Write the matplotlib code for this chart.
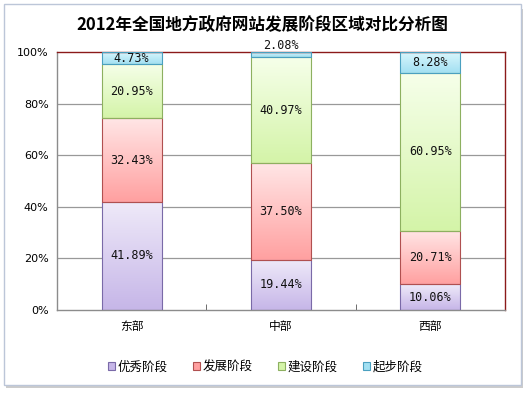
import numpy as np
import matplotlib
matplotlib.use("Agg")
import matplotlib.pyplot as plt
from matplotlib.colors import LinearSegmentedColormap
from matplotlib.patches import Rectangle

plt.rcParams['font.family'] = ['Noto Sans CJK SC', 'DejaVu Sans']

title = "2012年全国地方政府网站发展阶段区域对比分析图"
categories = ["东部", "中部", "西部"]
series_names = ["优秀阶段", "发展阶段", "建设阶段", "起步阶段"]
excellent = [41.89, 19.44, 10.06]
developing = [32.43, 37.50, 20.71]
building = [20.95, 40.97, 60.95]
starting = [4.73, 2.08, 8.28]
yticks = [0, 20, 40, 60, 80, 100]

series = [excellent, developing, building, starting]
# (top color, bottom color, edge color)
styles = [
    ("#efeaf9", "#c6b6e8", "#7a6aa8"),
    ("#ffe6e6", "#ffa0a0", "#b05050"),
    ("#f6ffea", "#d4f4a8", "#8db060"),
    ("#dcf7fd", "#a2e0f2", "#4aa0c0"),
]

fig = plt.figure(figsize=(5.28, 3.93), dpi=100)
W, H = 528, 393

# outer frame with shadow
shadow = Rectangle((6 / W, 1 - 388 / H), (521 - 4) / W, (385 - 6) / H,
                   transform=fig.transFigure, facecolor="#cccccc", edgecolor="none", zorder=0)
frame = Rectangle((4 / W, 1 - 385 / H), (521 - 4) / W, (385 - 4) / H,
                  transform=fig.transFigure, facecolor="white", edgecolor="#bcc6d8", lw=1, zorder=1)
fig.patches.extend([shadow, frame])

ax = fig.add_axes([57 / W, 1 - 310 / H, (505 - 57) / W, (310 - 52) / H])
ax.set_zorder(2)
ax.set_xlim(-0.5, 2.5)
ax.set_ylim(0, 100)
ax.set_facecolor("white")

for y in yticks[1:-1]:
    ax.axhline(y, color="#999999", lw=0.9, zorder=1)

x = np.arange(len(categories))
bottom = np.zeros(len(categories))
width = 0.4
grad = np.linspace(1, 0, 256).reshape(-1, 1)
for vals, (ctop, cbot, cedge) in zip(series, styles):
    cmap = LinearSegmentedColormap.from_list("g", [cbot, ctop])
    bars = ax.bar(x, vals, width, bottom=bottom, facecolor="none", edgecolor=cedge, lw=0.8, zorder=3)
    for b in bars:
        bx, by = b.get_x(), b.get_y()
        bw, bh = b.get_width(), b.get_height()
        im = ax.imshow(grad, extent=[bx, bx + bw, by, by + bh], aspect="auto",
                       cmap=cmap, vmin=0, vmax=1, zorder=2, origin="upper")
        im.set_clip_path(b)
    bottom = bottom + np.array(vals)

# labels
bottom = np.zeros(len(categories))
for si, vals in enumerate(series):
    for i, v in enumerate(vals):
        yc = bottom[i] + v / 2
        if v < 3:
            yc = bottom[i] + v + 2.6
        ax.text(x[i], yc, f"{v:.2f}%", ha="center", va="center", fontsize=8.5,
                family=["DejaVu Sans Mono"], color="#111111", zorder=5, clip_on=False)
    bottom = bottom + np.array(vals)

ax.set_yticks(yticks)
ax.set_yticklabels([f"{t}%" for t in yticks], fontsize=8, family=["DejaVu Sans"])
ax.set_xticks(x)
ax.set_xticklabels(categories, fontsize=8.5)
ax.tick_params(axis="both", length=0, pad=6)
ax.tick_params(axis="x", pad=7)
ax.set_xticks([0.5, 1.5], minor=True)
ax.tick_params(axis="x", which="minor", direction="in", length=4, color="#555555")

ax.spines["left"].set_color("#8c8c8c")
ax.spines["bottom"].set_color("#8c8c8c")
ax.spines["top"].set_color("#8b1a1a")
ax.spines["right"].set_color("#8b1a1a")
for s in ax.spines.values():
    s.set_linewidth(1)

fig.text(262 / W, 1 - 25 / H, title, ha="center", va="center", fontsize=12, fontweight="bold", zorder=5)

handles = [Rectangle((0, 0), 1, 1, facecolor=cbot, edgecolor=cedge, lw=0.8)
           for (ctop, cbot, cedge) in styles]
leg = fig.legend(handles, series_names, loc="center", bbox_to_anchor=(265 / W, 1 - 367 / H),
                 ncol=4, frameon=False, fontsize=9, handlelength=0.6, handleheight=0.6,
                 handletextpad=0.2, columnspacing=2.0)

fig.savefig("out.png", dpi=100)
